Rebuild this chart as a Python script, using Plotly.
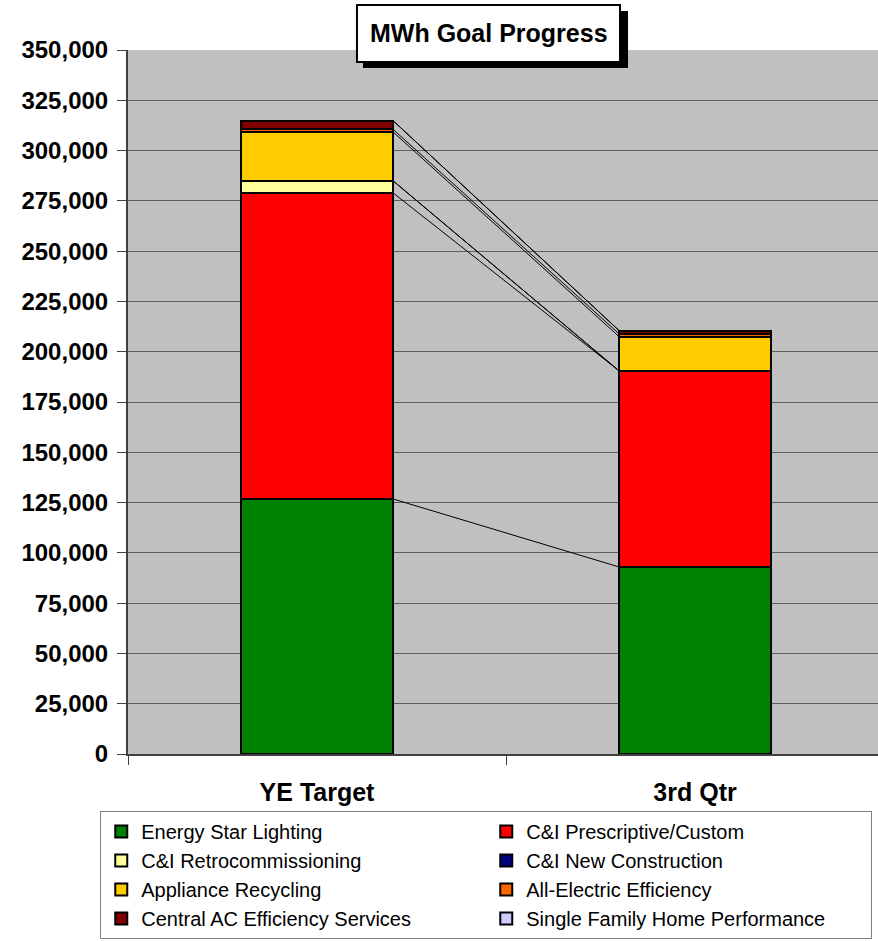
import plotly.graph_objects as go

categories = ["YE Target", "3rd Qtr"]
series_names = [
    "Energy Star Lighting",
    "C&I Prescriptive/Custom",
    "C&I Retrocommissioning",
    "C&I New Construction",
    "Appliance Recycling",
    "All-Electric Efficiency",
    "Central AC Efficiency Services",
    "Single Family Home Performance",
]
energy_star = [126800, 93000]
ci_prescriptive = [152200, 97500]
ci_retro = [6000, 0]
ci_new_construction = [0, 0]
appliance_recycling = [24300, 17000]
all_electric = [1300, 1400]
central_ac = [4300, 1600]
single_family = [0, 0]
series_values = [energy_star, ci_prescriptive, ci_retro, ci_new_construction,
                 appliance_recycling, all_electric, central_ac, single_family]
colors = ["#008000", "#FF0000", "#FFFF99", "#000080",
          "#FFCC00", "#FF6600", "#800000", "#CCCCFF"]
y_ticks = list(range(0, 350001, 25000))

BAR_W = 0.402
xpos = list(range(len(categories)))

fig = go.Figure()
for name, vals, col in zip(series_names, series_values, colors):
    fig.add_trace(go.Bar(
        x=xpos, y=vals, name=name, width=BAR_W,
        marker=dict(color=col, line=dict(color="black", width=2)),
    ))

# series lines connecting the tops of each stacked segment
cum = [0, 0]
for vals in series_values:
    cum = [cum[i] + vals[i] for i in range(2)]
    fig.add_trace(go.Scatter(
        x=[xpos[0] + BAR_W / 2, xpos[1] - BAR_W / 2], y=list(cum),
        mode="lines", line=dict(color="black", width=1),
        showlegend=False, hoverinfo="skip",
    ))

fig.update_layout(
    barmode="stack",
    width=878, height=941,
    margin=dict(l=128, r=0, t=50, b=187),
    paper_bgcolor="white",
    plot_bgcolor="#C0C0C0",
    font=dict(family="Liberation Sans, Arial", color="black"),
    showlegend=True,
    legend=dict(
        orientation="h", x=-0.037, y=-0.081, xanchor="left", yanchor="top",
        entrywidth=340, entrywidthmode="pixels",
        bordercolor="#808080", borderwidth=1, bgcolor="white",
        font=dict(size=20, family="Liberation Sans, Arial"),
        traceorder="normal",
    ),
    xaxis=dict(
        range=[-0.5, 1.484], tickmode="array", tickvals=xpos,
        ticktext=[f"<b>{c}</b>" for c in categories],
        ticks="", showgrid=False, zeroline=False,
        showline=True, linecolor="#404040", linewidth=2,
        tickfont=dict(size=25, family="Liberation Sans, Arial"),
        ticklabelstandoff=15,
        minor=dict(tickmode="array", tickvals=[-0.5, 0.5, 1.5], ticks="outside",
                   ticklen=9, tickcolor="#404040", tickwidth=1, showgrid=False),
    ),
    yaxis=dict(
        range=[0, 350000], tickmode="array", tickvals=y_ticks,
        ticktext=[f"<b>{v:,}</b>" for v in y_ticks],
        ticks="outside", ticklen=9, tickcolor="#404040",
        showgrid=True, gridcolor="#606060", gridwidth=1,
        zeroline=False, showline=True, linecolor="#404040", linewidth=2,
        tickfont=dict(size=24, family="Liberation Sans, Arial"),
        ticklabelstandoff=4,
    ),
)

# title box with shadow
fig.add_shape(type="rect", xref="paper", yref="paper",
              x0=0.3133, x1=0.6667, y0=0.9744, y1=1.0554,
              fillcolor="black", line=dict(width=0), layer="above")
fig.add_shape(type="rect", xref="paper", yref="paper",
              x0=0.3053, x1=0.656, y0=0.983, y1=1.064,
              fillcolor="white", line=dict(color="black", width=2), layer="above")
fig.add_annotation(text="<b>MWh Goal Progress</b>", xref="paper", yref="paper",
                   x=0.4807, y=1.024, xanchor="center", yanchor="middle",
                   showarrow=False,
                   font=dict(size=25, family="Liberation Sans, Arial", color="black"))

fig.write_html("out.html")
